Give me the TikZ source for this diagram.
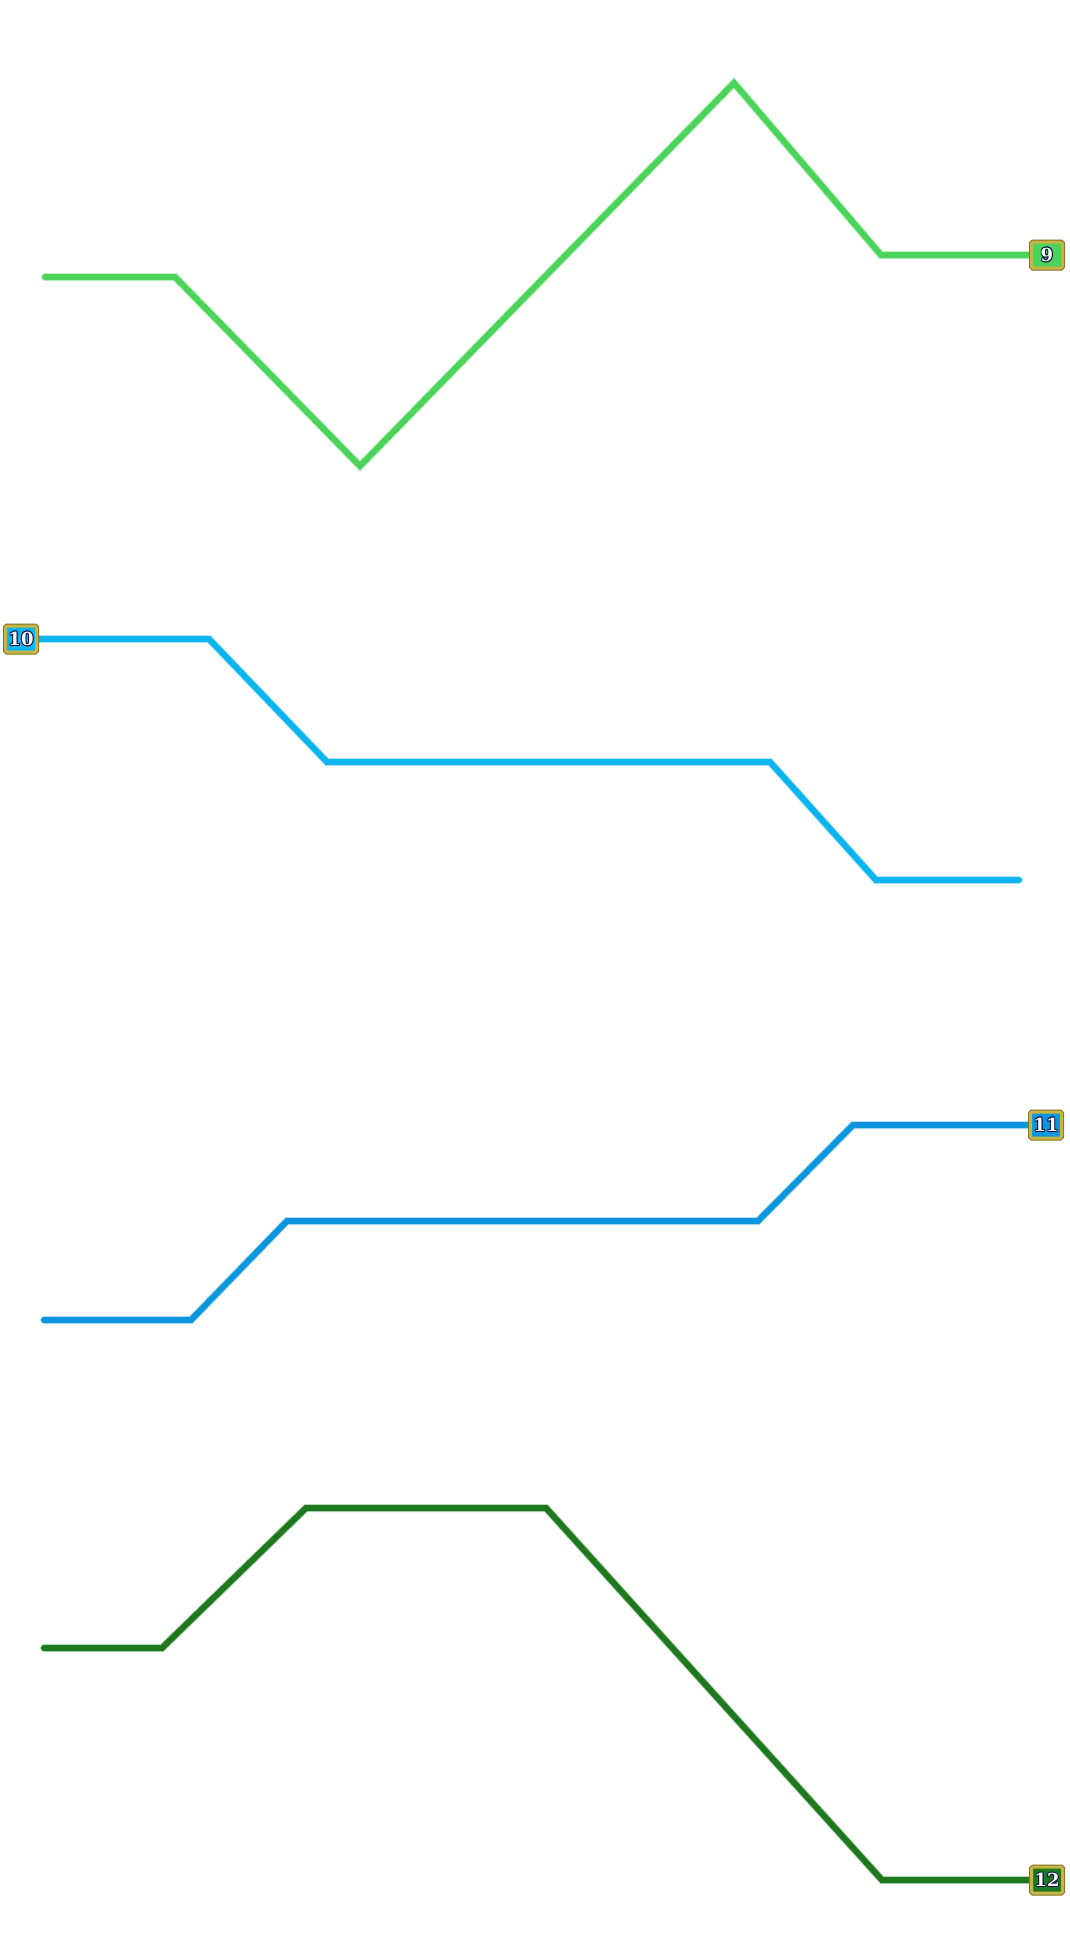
\documentclass[tikz,border=0pt]{standalone}
\usepackage{fontspec}
\usetikzlibrary{backgrounds}
\setmainfont{DejaVu Serif}
\definecolor{gA}{HTML}{4CD35A}
\definecolor{gAl}{HTML}{9BE8A2}
\definecolor{bA}{HTML}{0AB4EF}
\definecolor{bAl}{HTML}{8ED9F5}
\definecolor{bB}{HTML}{0A96DC}
\definecolor{bBl}{HTML}{8CC8EC}
\definecolor{gB}{HTML}{1E781E}
\definecolor{gBl}{HTML}{8CB88C}
\definecolor{gold}{HTML}{C8B445}
\definecolor{golddk}{HTML}{857320}
\definecolor{lblout}{HTML}{10104A}
\newcommand{\cpy}[3]{\rlap{\kern#1\raisebox{#2}{\color{lblout}#3}}}
\newcommand{\olbl}[1]{\cpy{1pt}{0pt}{#1}\cpy{-1pt}{0pt}{#1}\cpy{0pt}{1pt}{#1}\cpy{0pt}{-1pt}{#1}\cpy{0.7pt}{0.7pt}{#1}\cpy{-0.7pt}{0.7pt}{#1}\cpy{0.7pt}{-0.7pt}{#1}\cpy{-0.7pt}{-0.7pt}{#1}\rlap{\color{white}#1}\phantom{#1}}
\tikzset{
  route/.style={line width=6pt, line cap=round, line join=miter, color=#1},
  glow/.style={line width=8pt, line cap=round, line join=miter, color=#1, opacity=0.6},
  lbl/.style={draw=gold, line width=3pt, fill=#1, rounded corners=1.5pt,
    minimum width=31pt, minimum height=26pt, inner sep=0pt,
    font=\fontsize{18}{18}\selectfont\bfseries,
    preaction={draw=golddk, line width=5pt}},
}
\begin{document}
\begin{tikzpicture}[x=1pt,y=-1pt]
\useasboundingbox (0,0) rectangle (1069,1944);
% labels
\node[lbl=gA] (l9) at (1047,255) {\olbl{9}};
\node[lbl=bA] (l10) at (21,639) {\olbl{10}};
\node[lbl=bB] (l11) at (1046,1125) {\olbl{11}};
\node[lbl=gB] (l12) at (1047,1880) {\olbl{12}};
\begin{scope}[on background layer]
\fill[white] (0,0) rectangle (1069,1944);
% route 9
\coordinate (a1) at (45,277);
\coordinate (a2) at (175,277);
\coordinate (a3) at (360,466);
\coordinate (a4) at (734,83);
\coordinate (a5) at (881,255);
\draw[glow=gAl] (a1) -- (a2) -- (a3) -- (a4) -- (a5) -- (l9.west);
\draw[route=gA] (a1) -- (a2) -- (a3) -- (a4) -- (a5) -- (l9.west);
% route 10
\coordinate (b2) at (209,639);
\coordinate (b3) at (327,762);
\coordinate (b4) at (770,762);
\coordinate (b5) at (876,880);
\coordinate (b6) at (1019,880);
\draw[glow=bAl] (l10.east) -- (b2) -- (b3) -- (b4) -- (b5) -- (b6);
\draw[route=bA] (l10.east) -- (b2) -- (b3) -- (b4) -- (b5) -- (b6);
% route 11
\coordinate (c1) at (44,1320);
\coordinate (c2) at (191,1320);
\coordinate (c3) at (287,1221);
\coordinate (c4) at (758,1221);
\coordinate (c5) at (853,1125);
\draw[glow=bBl] (c1) -- (c2) -- (c3) -- (c4) -- (c5) -- (l11.west);
\draw[route=bB] (c1) -- (c2) -- (c3) -- (c4) -- (c5) -- (l11.west);
% route 12
\coordinate (d1) at (44,1648);
\coordinate (d2) at (162,1648);
\coordinate (d3) at (306,1508);
\coordinate (d4) at (546,1508);
\coordinate (d5) at (882,1880);
\draw[glow=gBl] (d1) -- (d2) -- (d3) -- (d4) -- (d5) -- (l12.west);
\draw[route=gB] (d1) -- (d2) -- (d3) -- (d4) -- (d5) -- (l12.west);
\end{scope}
\end{tikzpicture}
\end{document}
